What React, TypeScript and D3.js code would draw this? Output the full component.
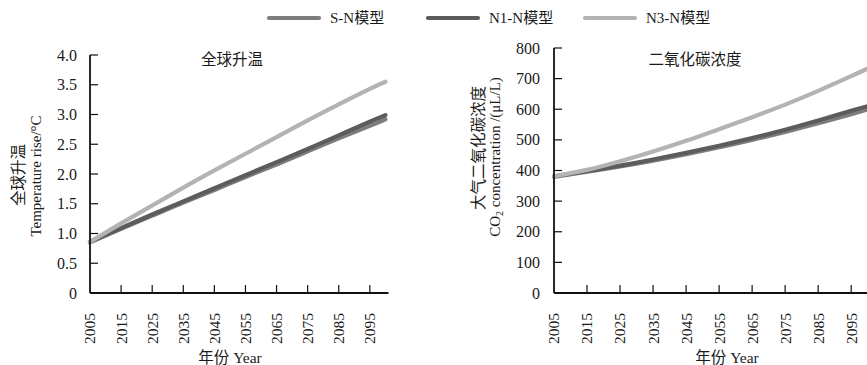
import React from "react";
import * as d3 from "d3";

const years = [2005, 2015, 2025, 2035, 2045, 2055, 2065, 2075, 2085, 2095, 2100];
const tickYears = [2005, 2015, 2025, 2035, 2045, 2055, 2065, 2075, 2085, 2095];

const seriesNames = ["S-N模型", "N1-N模型", "N3-N模型"];
const seriesColors = ["#7d7d7d", "#5c5c5c", "#b3b3b3"];

// Temperature rise (°C)
const tempSN = [0.85, 1.08, 1.3, 1.52, 1.73, 1.95, 2.16, 2.38, 2.6, 2.81, 2.92];
const tempN1 = [0.86, 1.09, 1.32, 1.54, 1.76, 1.98, 2.2, 2.42, 2.65, 2.88, 2.99];
const tempN3 = [0.86, 1.17, 1.47, 1.77, 2.06, 2.34, 2.62, 2.9, 3.17, 3.43, 3.55];

// CO2 concentration (μL/L)
const co2SN = [379, 396, 413, 432, 453, 476, 500, 526, 554, 584, 600];
const co2N1 = [381, 398, 416, 436, 458, 481, 506, 533, 563, 595, 610];
const co2N3 = [381, 402, 430, 462, 497, 535, 574, 615, 660, 708, 733];

const tempTicks = [0, 0.5, 1.0, 1.5, 2.0, 2.5, 3.0, 3.5, 4.0];
const co2Ticks = [0, 100, 200, 300, 400, 500, 600, 700, 800];

const SERIF = "'Liberation Serif', 'Times New Roman', serif";
const CJK = "'Liberation Serif', 'Noto Sans CJK SC', serif";

type PanelProps = {
  x0: number;
  x1: number;
  yTop: number;
  yBottom: number;
  yMax: number;
  yTicks: number[];
  fmt: (v: number) => string;
  data: number[][];
  title: string;
  titleX: number;
  xTitleX: number;
  yTitle1: React.ReactNode;
  yTitle2: React.ReactNode;
  yTitle1X: number;
  yTitle2X: number;
  yTitle1Y: number;
  yTitle2Y: number;
  labelX: number;
};

function Panel(p: PanelProps) {
  const x = d3.scaleLinear().domain([2005, 2101]).range([p.x0, p.x1]);
  const y = d3.scaleLinear().domain([0, p.yMax]).range([p.yBottom, p.yTop]);
  const line = d3
    .line<number>()
    .x((_, i) => x(years[i]))
    .y((d) => y(d))
    .curve(d3.curveNatural);
  const tickLen = 8;
  return (
    <g>
      {p.data.map((s, i) => (
        <path
          key={i}
          d={line(s) || ""}
          fill="none"
          stroke={seriesColors[i]}
          strokeWidth={4.2}
          strokeLinecap="round"
        />
      ))}
      <line x1={p.x0} x2={p.x0} y1={y(p.yMax)} y2={p.yBottom} stroke="#111" strokeWidth={1.8} />
      <line x1={p.x0} x2={p.x1} y1={p.yBottom} y2={p.yBottom} stroke="#111" strokeWidth={1.8} />
      {p.yTicks.map((t) => (
        <g key={"y" + t}>
          {t > 0 && (
            <line x1={p.x0} x2={p.x0 + tickLen} y1={y(t)} y2={y(t)} stroke="#111" strokeWidth={1.2} />
          )}
          <text
            x={p.labelX}
            y={y(t)}
            dy="0.35em"
            textAnchor="end"
            fontFamily={SERIF}
            fontSize={16}
            fill="#1a1a1a"
          >
            {p.fmt(t)}
          </text>
        </g>
      ))}
      {tickYears.map((t) => (
        <g key={"x" + t}>
          {t > 2005 && (
            <line x1={x(t)} x2={x(t)} y1={p.yBottom} y2={p.yBottom - tickLen} stroke="#111" strokeWidth={1.2} />
          )}
          <text
            transform={`translate(${x(t)},${313}) rotate(-90)`}
            dy="0.35em"
            textAnchor="end"
            fontFamily={SERIF}
            fontSize={15.5}
            fill="#1a1a1a"
          >
            {t}
          </text>
        </g>
      ))}
      <text x={p.titleX} y={65} textAnchor="middle" fontFamily={CJK} fontSize={15.5} fill="#1a1a1a">
        {p.title}
      </text>
      <text x={p.xTitleX} y={363} textAnchor="middle" fontFamily={CJK} fontSize={15.5} fill="#1a1a1a">
        年份 Year
      </text>
      <text
        transform={`translate(${p.yTitle1X},${p.yTitle1Y}) rotate(-90)`}
        textAnchor="middle"
        dominantBaseline="central"
        fontFamily={CJK}
        fontSize={15.5}
        fill="#1a1a1a"
      >
        {p.yTitle1}
      </text>
      <text
        transform={`translate(${p.yTitle2X},${p.yTitle2Y}) rotate(-90)`}
        textAnchor="middle"
        dominantBaseline="central"
        fontFamily={SERIF}
        fontSize={15}
        fill="#1a1a1a"
      >
        {p.yTitle2}
      </text>
    </g>
  );
}

const legendLineX = [269, 428, 585];

export default function App() {
  return (
    <svg
      width={867}
      height={365}
      style={{ position: "absolute", left: 0, top: 0, background: "#fff", overflow: "hidden" }}
    >
      <rect width={867} height={365} fill="#fff" />
      {seriesNames.map((n, i) => (
        <g key={n}>
          <line
            x1={legendLineX[i]}
            x2={legendLineX[i] + 50}
            y1={18}
            y2={18}
            stroke={seriesColors[i]}
            strokeWidth={4.2}
            strokeLinecap="round"
          />
          <text x={legendLineX[i] + 61} y={23} fontFamily={CJK} fontSize={15} fill="#1a1a1a">
            {n}
          </text>
        </g>
      ))}
      <Panel
        x0={90}
        x1={388.5}
        yTop={55}
        yBottom={293}
        yMax={4}
        yTicks={tempTicks}
        fmt={(v) => (v === 0 ? "0" : v.toFixed(1))}
        data={[tempSN, tempN1, tempN3]}
        title="全球升温"
        titleX={232}
        xTitleX={230}
        yTitle1="全球升温"
        yTitle2="Temperature rise/°C"
        yTitle1X={18}
        yTitle2X={36}
        yTitle1Y={175}
        yTitle2Y={176}
        labelX={77}
      />
      <Panel
        x0={554}
        x1={871}
        yTop={48}
        yBottom={293}
        yMax={800}
        yTicks={co2Ticks}
        fmt={(v) => String(v)}
        data={[co2SN, co2N1, co2N3]}
        title="二氧化碳浓度"
        titleX={695}
        xTitleX={727}
        yTitle1="大气二氧化碳浓度"
        yTitle2={
          <>
            CO
            <tspan fontSize={10} dy={4}>
              2
            </tspan>
            <tspan dy={-4}> concentration /(μL/L)</tspan>
          </>
        }
        yTitle1X={478}
        yTitle2X={495}
        yTitle1Y={148}
        yTitle2Y={157}
        labelX={540}
      />
    </svg>
  );
}
